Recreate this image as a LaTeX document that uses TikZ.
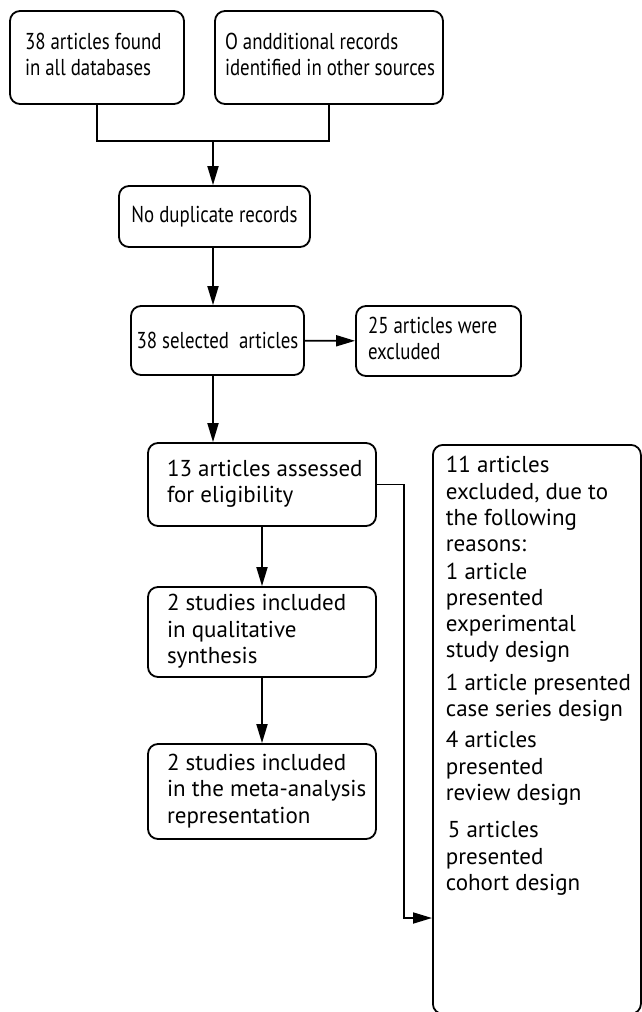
\documentclass[tikz,border=0pt]{standalone}
\usepackage{fontspec}
\setmainfont[FakeStretch=1.0]{PT Sans}
\newfontfamily\condf[FakeStretch=0.82]{PT Sans}
\usetikzlibrary{arrows.meta}
\newcommand\bt[3]{\makebox[#1][l]{\hspace*{#2}\begin{tabular}{@{}l@{}}#3\end{tabular}}}
\begin{document}
\begin{tikzpicture}[x=1pt,y=-1pt,
  box/.style={draw, rounded corners=10pt, inner sep=0pt, line width=1.8pt,
    font=\fontsize{23}{26.3}\selectfont},
  cbox/.style={box, font=\fontsize{23}{26.3}\selectfont\condf},
  arr/.style={-{Triangle[length=19pt,width=11pt]}, line width=1.8pt},
  ln/.style={line width=1.8pt}]
\useasboundingbox (0,0) rectangle (641,1012);

\node[cbox, minimum width=174pt, minimum height=93pt] (A) at (97,57.5)
  {\bt{174pt}{15pt}{38 articles found\\ in all databases}};
\node[cbox, minimum width=228pt, minimum height=93pt] (B) at (329,57.5)
  {\bt{228pt}{10pt}{O andditional records\\ identified in other sources}};
\node[cbox, minimum width=191pt, minimum height=61pt] (C) at (214.5,216.5)
  {No duplicate records};
\node[cbox, minimum width=173pt, minimum height=69pt] (D) at (217.5,340.5)
  {38 selected\ \ articles};
\node[cbox, minimum width=165pt, minimum height=70pt] (E) at (438.5,341)
  {\bt{165pt}{12pt}{25 articles were\\ excluded}};
\node[box, minimum width=228pt, minimum height=83pt] (F) at (262,484.5)
  {\raisebox{4pt}{\bt{228pt}{19pt}{13 articles assessed\\ for eligibility}}};
\node[box, minimum width=228pt, minimum height=90pt] (G) at (262,632)
  {\bt{228pt}{19pt}{2 studies included\\ in qualitative\\ synthesis}};
\node[box, minimum width=228pt, minimum height=95pt] (H) at (262,791.5)
  {\bt{228pt}{19pt}{2 studies included\\ in the meta-analysis\\ representation}};
\node[box, anchor=north west, inner xsep=13pt, inner ysep=9.5pt] (I) at (432,444)
  {\begin{minipage}[t][550pt][t]{182pt}\begin{tabular}[t]{@{}l@{}}
  11 articles\\ excluded, due to\\ the following\\ reasons:\\[1pt]
  1 article\\ presented\\ experimental\\ study design\\[6pt]
  1 article presented\\ case series design\\[5pt]
  4 articles\\ presented\\ review design\\[11pt]
  \hspace*{2pt}5 articles\\ presented\\ cohort design
  \end{tabular}\end{minipage}};

\coordinate (j) at (213,141);
\coordinate (k) at (404,918);
\draw[ln] (A.south) |- (j) -| (B.south);
\draw[arr] (j) -- (j |- C.north);
\draw[arr] (C.south -| j) -- (D.north -| j);
\draw[arr] (D) -- (E);
\draw[arr] (D.south -| j) -- (F.north -| j);
\draw[arr] (F) -- (G);
\draw[arr] (G) -- (H);
\draw[arr] (F.east) -| (k) -- (I.west |- k);
\end{tikzpicture}
\end{document}
